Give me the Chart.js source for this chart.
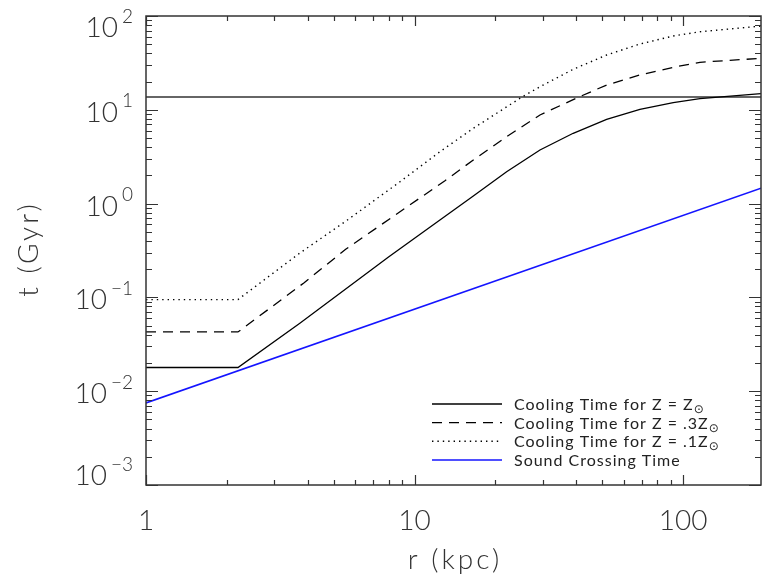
<!DOCTYPE html>
<html>
<head>
<meta charset="utf-8">
<script src="https://cdn.jsdelivr.net/npm/chart.js@4.4.0/dist/chart.umd.min.js"></script>
<style>
  html, body { margin: 0; padding: 0; background: #fff; }
</style>
</head>
<body>
<canvas id="coolChart" width="762" height="584"></canvas>
<script>
// axis ranges and tick labels
const xMin = 1, xMax = 195;
const yMin = 1e-3, yMax = 100;
const xTickValues = [1, 10, 100];
const xTickLabels = ["1", "10", "100"];
const yTickExps = [-3, -2, -1, 0, 1, 2];
const xTitle = "r (kpc)";
const yTitle = "t (Gyr)";

// cooling time, Z = Zsun (Gyr)
const rSolar = [1, 2.2, 3.74, 8.0, 12.43, 16.55, 22.02, 29.31, 38.97, 51.9, 69.06, 91.88, 115.5, 195];
const tSolar = [0.0179, 0.0179, 0.053, 0.27, 0.668, 1.205, 2.189, 3.728, 5.618, 7.918, 10.12, 11.9, 13.13, 14.9];

// cooling time, Z = .3 Zsun
const rThird = [1, 2.2, 3.87, 5.54, 12.98, 16.55, 22.02, 29.31, 40.69, 51.9, 69.06, 91.88, 115.5, 195];
const tThird = [0.0428, 0.0428, 0.1425, 0.326, 1.754, 2.916, 5.167, 8.803, 13.6, 18.38, 23.5, 28.39, 32.09, 35.4];

// cooling time, Z = .1 Zsun
const rTenth = [1, 2.2, 3.74, 5.54, 8.8, 12.43, 16.55, 25.04, 29.31, 38.97, 51.9, 69.06, 91.88, 115.5, 195];
const tTenth = [0.0948, 0.0948, 0.297, 0.648, 1.7, 3.575, 6.35, 13.6, 17.63, 27.03, 38.39, 50.29, 61.2, 68.0, 78.2];

// sound crossing time
const rSound = [1, 195];
const tSound = [0.0075, 1.46];

// age line
const rAge = [1, 195];
const tAge = [13.7, 13.7];

const legendText = ["Cooling Time for Z = Z", "Cooling Time for Z = .3Z", "Cooling Time for Z = .1Z", "Sound Crossing Time"];
const legendSub = ["\u2299", "\u2299", "\u2299", ""];

const toPoints = (rs, ts) => rs.map((r, i) => ({ x: r, y: ts[i] }));

const FONT = 'Lato, "DejaVu Sans", sans-serif';

// box, inward ticks, labels and legend drawn IDL-style
const idlAxes = {
  id: "idlAxes",
  afterDatasetsDraw(chart) {
    const { ctx, chartArea: a } = chart;
    const xs = chart.scales.x, ys = chart.scales.y;
    ctx.save();

    ctx.strokeStyle = "#333";
    ctx.lineWidth = 1.5;
    ctx.strokeRect(a.left, a.top, a.right - a.left, a.bottom - a.top);

    ctx.lineWidth = 1.2;
    ctx.beginPath();
    for (let e = Math.floor(Math.log10(xs.min)); e <= Math.ceil(Math.log10(xs.max)); e++) {
      for (let k = 1; k <= 9; k++) {
        const v = k * Math.pow(10, e);
        if (v < xs.min * 0.999 || v > xs.max * 1.001) continue;
        const px = Math.round(xs.getPixelForValue(v)) + 0.5;
        const len = k === 1 ? 10 : 5;
        ctx.moveTo(px, a.bottom); ctx.lineTo(px, a.bottom - len);
        ctx.moveTo(px, a.top); ctx.lineTo(px, a.top + len);
      }
    }
    for (let e = Math.floor(Math.log10(ys.min)); e <= Math.ceil(Math.log10(ys.max)); e++) {
      for (let k = 1; k <= 9; k++) {
        const v = k * Math.pow(10, e);
        if (v < ys.min * 0.999 || v > ys.max * 1.001) continue;
        const py = Math.round(ys.getPixelForValue(v)) + 0.5;
        const len = k === 1 ? 12 : 6;
        ctx.moveTo(a.left, py); ctx.lineTo(a.left + len, py);
        ctx.moveTo(a.right, py); ctx.lineTo(a.right - len, py);
      }
    }
    ctx.stroke();

    // x tick labels
    ctx.fillStyle = "#333";
    ctx.letterSpacing = "0px";
    ctx.textBaseline = "alphabetic";
    ctx.textAlign = "center";
    ctx.font = "300 28px " + FONT;
    xTickValues.forEach((v, i) => {
      ctx.fillText(xTickLabels[i], xs.getPixelForValue(v), a.bottom + 45);
    });

    // y tick labels with superscript exponents
    ctx.textAlign = "left";
    const right = a.left - 13;
    yTickExps.forEach(e => {
      const py = ys.getPixelForValue(Math.pow(10, e));
      const base = Math.min(Math.max(py + 12, a.top + 21), a.bottom);
      const sup = e < 0 ? "\u2212" + Math.abs(e) : String(e);
      ctx.font = "300 19px " + FONT;
      const ws = ctx.measureText(sup).width;
      ctx.font = "300 28px " + FONT;
      const wb = ctx.measureText("10").width;
      ctx.fillText("10", right - ws - 4 - wb, base);
      ctx.font = "300 19px " + FONT;
      ctx.fillText(sup, right - ws, base - 14.5);
    });

    // axis titles
    ctx.font = "300 28px " + FONT;
    ctx.letterSpacing = "3px";
    ctx.textAlign = "center";
    ctx.fillText(xTitle, (a.left + a.right) / 2 + 1.5, a.bottom + 84);
    ctx.save();
    ctx.translate(38, (a.top + a.bottom) / 2);
    ctx.rotate(-Math.PI / 2);
    ctx.fillText(yTitle, 1.5, 0);
    ctx.restore();

    // legend
    ctx.letterSpacing = "1px";
    ctx.textAlign = "left";
    const rowY = [a.bottom - 81, a.bottom - 62.3, a.bottom - 43.7, a.bottom - 25];
    chart.data.datasets.slice(0, 4).forEach((ds, i) => {
      const y = rowY[i];
      ctx.strokeStyle = ds.borderColor;
      ctx.lineWidth = ds.borderWidth;
      ctx.setLineDash(ds.borderDash || []);
      ctx.beginPath();
      ctx.moveTo(432, y); ctx.lineTo(502, y);
      ctx.stroke();
      ctx.setLineDash([]);
      ctx.fillStyle = "#222";
      ctx.font = "16px " + FONT;
      ctx.fillText(legendText[i], 514, y + 6);
      if (legendSub[i]) {
        const w = ctx.measureText(legendText[i]).width;
        ctx.font = '12px "DejaVu Sans", sans-serif';
        ctx.fillText(legendSub[i], 514 + w, y + 9);
      }
    });

    ctx.restore();
  }
};

new Chart(document.getElementById("coolChart"), {
  type: "line",
  data: {
    datasets: [
      { label: "Z = Zsun", data: toPoints(rSolar, tSolar), borderColor: "#000", borderWidth: 1.3 },
      { label: "Z = .3Zsun", data: toPoints(rThird, tThird), borderColor: "#000", borderWidth: 1.3, borderDash: [10, 7] },
      { label: "Z = .1Zsun", data: toPoints(rTenth, tTenth), borderColor: "#000", borderWidth: 1.4, borderDash: [1.4, 4] },
      { label: "Sound Crossing Time", data: toPoints(rSound, tSound), borderColor: "#1414ff", borderWidth: 1.5 },
      { label: "Age", data: toPoints(rAge, tAge), borderColor: "#333", borderWidth: 1.6 }
    ]
  },
  options: {
    responsive: false,
    animation: false,
    layout: { padding: { top: 16, right: 1, left: 0, bottom: 0 } },
    elements: { point: { radius: 0 }, line: { tension: 0, fill: false } },
    plugins: { legend: { display: false }, tooltip: { enabled: false } },
    scales: {
      x: {
        type: "logarithmic", min: xMin, max: xMax,
        grid: { display: false }, border: { display: false }, ticks: { display: false },
        afterFit: s => { s.height = 99; }
      },
      y: {
        type: "logarithmic", min: yMin, max: yMax,
        grid: { display: false }, border: { display: false }, ticks: { display: false },
        afterFit: s => { s.width = 146; }
      }
    }
  },
  plugins: [idlAxes]
});
</script>
</body>
</html>
